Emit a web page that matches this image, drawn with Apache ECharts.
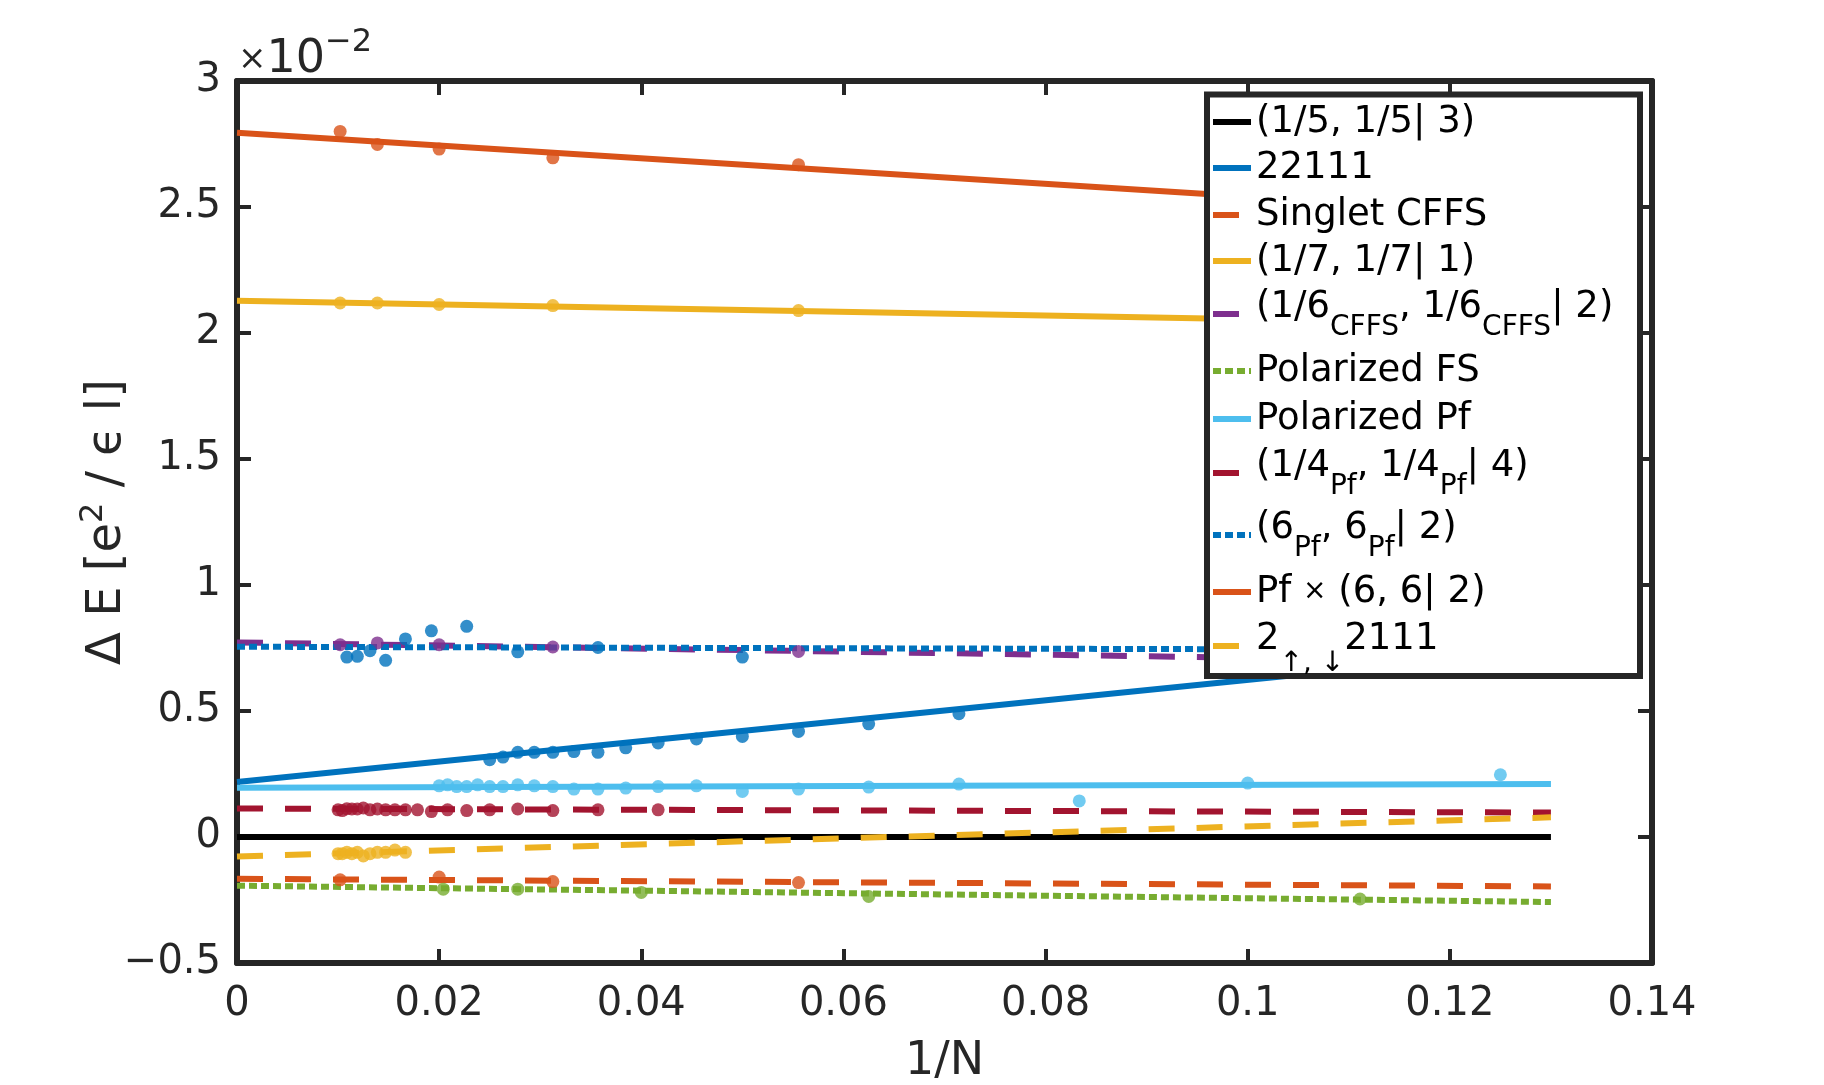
<!DOCTYPE html>
<html>
<head>
<meta charset="utf-8">
<title>Delta E vs 1/N</title>
<script src="https://cdn.jsdelivr.net/npm/echarts@6/dist/echarts.min.js"></script>
<style>
  html, body { margin: 0; padding: 0; background: #ffffff; }
  #chart { width: 1824px; height: 1085px; }
</style>
</head>
<body>
<div id="chart"></div>
<script>
// energies are in units of 1e-2 e^2/(eps l); fits run from 1/N = 0 to 0.13
const fitX = [0, 0.13];
const fit15 = [0, 0];
const fit22111 = [0.218, 0.745];
const fitSinglet = [-0.166, -0.196];
const fit17 = [2.128, 2.033];
const fit16 = [0.772, 0.693];
const fitPolFS = [-0.193, -0.258];
const fitPolPf = [0.195, 0.210];
const fit14 = [0.113, 0.097];
const fit6Pf = [0.755, 0.742];
const fitPf66 = [2.795, 2.465];
const fit2111 = [-0.077, 0.078];

// raw points: system size N and energy
const n22111 = [40, 38, 36, 34, 32, 30, 28, 26, 24, 22, 20, 18, 16, 14];
const e22111 = [0.307, 0.317, 0.336, 0.336, 0.336, 0.339, 0.336, 0.354, 0.373, 0.389, 0.399, 0.419, 0.449, 0.489];
const nSinglet = [98, 50, 32, 18];
const eSinglet = [-0.170, -0.159, -0.177, -0.181];
const n17 = [98, 72, 50, 32, 18];
const e17 = [2.119, 2.119, 2.113, 2.109, 2.089];
const n16 = [98, 72, 50, 32, 18];
const e16 = [0.763, 0.770, 0.763, 0.754, 0.736];
const nPolFS = [49, 36, 25, 16, 9];
const ePolFS = [-0.207, -0.207, -0.220, -0.236, -0.246];
const nPolPf = [50, 48, 46, 44, 42, 40, 38, 36, 34, 32, 30, 28, 26, 24, 22, 20, 18, 16, 14, 12, 10, 8];
const ePolPf = [0.203, 0.207, 0.200, 0.200, 0.207, 0.200, 0.200, 0.207, 0.203, 0.200, 0.190, 0.190, 0.194, 0.200, 0.203, 0.181, 0.190, 0.198, 0.210, 0.143, 0.214, 0.247];
const n14 = [100, 96, 92, 88, 84, 80, 76, 72, 68, 64, 60, 56, 52, 48, 44, 40, 36, 32, 28, 24];
const e14 = [0.108, 0.105, 0.112, 0.111, 0.111, 0.115, 0.108, 0.111, 0.108, 0.108, 0.108, 0.108, 0.101, 0.108, 0.105, 0.108, 0.111, 0.105, 0.108, 0.108];
const n6Pf = [92, 84, 76, 68, 60, 52, 44, 36, 28, 20];
const e6Pf = [0.714, 0.717, 0.739, 0.701, 0.786, 0.818, 0.836, 0.735, 0.752, 0.714];
const nPf66 = [98, 72, 50, 32, 18];
const ePf66 = [2.800, 2.748, 2.730, 2.695, 2.668];
const n2111 = [100, 96, 92, 88, 84, 80, 76, 72, 68, 64, 60];
const e2111 = [-0.066, -0.066, -0.061, -0.066, -0.061, -0.075, -0.066, -0.061, -0.061, -0.052, -0.061];

const fontFamily = 'DejaVu Sans';
const axisColor = '#262626';
const DASHED = [26, 22];
const DOTTED = [8, 4];
const LW = 6;

// legend order = plot order
const entries = [
  { name: '(1/5, 1/5| 3)', label: '(1/5, 1/5| 3)', color: '#000000', dash: 'solid', fit: fit15, n: [], e: [] },
  { name: '22111', label: '22111', color: '#0072BD', dash: 'solid', fit: fit22111, n: n22111, e: e22111 },
  { name: 'Singlet CFFS', label: 'Singlet CFFS', color: '#D95319', dash: DASHED, fit: fitSinglet, n: nSinglet, e: eSinglet },
  { name: '(1/7, 1/7| 1)', label: '(1/7, 1/7| 1)', color: '#EDB120', dash: 'solid', fit: fit17, n: n17, e: e17 },
  { name: '(1/6CFFS, 1/6CFFS| 2)', label: '(1/6{s|CFFS}, 1/6{s|CFFS}| 2)', color: '#7E2F8E', dash: DASHED, fit: fit16, n: n16, e: e16, sub: true },
  { name: 'Polarized FS', label: 'Polarized FS', color: '#77AC30', dash: DOTTED, fit: fitPolFS, n: nPolFS, e: ePolFS },
  { name: 'Polarized Pf', label: 'Polarized Pf', color: '#4DBEEE', dash: 'solid', fit: fitPolPf, n: nPolPf, e: ePolPf },
  { name: '(1/4Pf, 1/4Pf| 4)', label: '(1/4{s|Pf}, 1/4{s|Pf}| 4)', color: '#A2142F', dash: DASHED, fit: fit14, n: n14, e: e14, sub: true },
  { name: '(6Pf, 6Pf| 2)', label: '(6{s|Pf}, 6{s|Pf}| 2)', color: '#0072BD', dash: DOTTED, fit: fit6Pf, n: n6Pf, e: e6Pf, sub: true },
  { name: 'Pf x (6, 6| 2)', label: 'Pf {x|×} (6, 6| 2)', color: '#D95319', dash: 'solid', fit: fitPf66, n: nPf66, e: ePf66 },
  { name: '2ud2111', label: '2{a|↑, ↓}2111', color: '#EDB120', dash: DASHED, fit: fit2111, n: n2111, e: e2111, sub: true }
];

// icon centre of each legend row (px)
const legendRows = [122, 168, 215, 261, 313, 371, 419, 472, 534, 592, 641];

const richLegend = {
  s: { fontSize: 28, fontFamily: fontFamily, color: '#000', padding: [42, 0, 0, 0], lineHeight: 44 },
  x: { fontSize: 28, fontFamily: fontFamily, color: '#000', lineHeight: 44 },
  a: { fontSize: 28, fontFamily: fontFamily, color: '#000', padding: [50, 0, 0, 0], lineHeight: 44 }
};

const series = [];
entries.forEach(function (en) {
  series.push({
    name: en.name,
    type: 'line',
    data: fitX.map(function (x, i) { return [x, en.fit[i]]; }),
    symbol: 'none',
    showSymbol: false,
    silent: true,
    lineStyle: { color: en.color, width: LW, type: en.dash, cap: 'butt' },
    itemStyle: { color: en.color },
    z: 2
  });
});
entries.forEach(function (en) {
  if (!en.n.length) return;
  series.push({
    name: en.name + ' points',
    type: 'scatter',
    data: en.n.map(function (n, i) { return [1 / n, en.e[i]]; }),
    symbol: 'circle',
    symbolSize: 13,
    silent: true,
    itemStyle: { color: en.color },
    z: 3
  });
});

const legends = entries.map(function (en, i) {
  const pad = en.sub ? 14 : 0;
  // rows with subscripts get a taller box, pull them back up
  const shift = en.sub ? 12 : 0;
  return {
    data: [en.name],
    orient: 'vertical',
    left: 1210,
    top: legendRows[i] - (44 + pad) / 2 - shift,
    padding: 0,
    itemWidth: 38,
    itemHeight: 10,
    selectedMode: false,
    z: 5,
    lineStyle: { width: LW },
    itemStyle: { opacity: 0, borderWidth: 0 },
    formatter: function () { return en.label; },
    textStyle: {
      fontSize: 37, fontFamily: fontFamily, color: '#000', lineHeight: 44,
      padding: [0, 0, pad, 0], rich: richLegend
    }
  };
});

const xFmt = function (v) { return v === 0 ? '0' : String(+v.toFixed(2)); };
const yFmt = function (v) {
  const s = String(+Math.abs(v).toFixed(1));
  return v < 0 ? '\u2212' + s : s;
};
const boxLine = { show: true, onZero: false, lineStyle: { color: axisColor, width: 6 } };
const boxTick = { show: true, inside: true, length: 14, lineStyle: { color: axisColor, width: 4 } };

const option = {
  animation: false,
  backgroundColor: '#ffffff',
  grid: { left: 237, right: 172, top: 81, bottom: 122, containLabel: false, outerBoundsMode: 'none' },
  xAxis: [
    {
      type: 'value', min: 0, max: 0.14, interval: 0.02, position: 'bottom',
      axisLine: boxLine, axisTick: boxTick, splitLine: { show: false },
      axisLabel: { fontSize: 40, fontFamily: fontFamily, color: axisColor, margin: 22, formatter: xFmt, showMinLabel: true, showMaxLabel: true },
      name: '1/N', nameLocation: 'middle', nameGap: 76, nameMoveOverlap: false,
      nameTextStyle: { fontSize: 46, fontFamily: fontFamily, color: axisColor }
    },
    {
      type: 'value', min: 0, max: 0.14, interval: 0.02, position: 'top',
      axisLine: boxLine, axisTick: boxTick, splitLine: { show: false }, axisLabel: { show: false }
    }
  ],
  yAxis: [
    {
      type: 'value', min: -0.5, max: 3, interval: 0.5, position: 'left',
      axisLine: boxLine, axisTick: boxTick, splitLine: { show: false },
      axisLabel: { fontSize: 40, fontFamily: fontFamily, color: axisColor, margin: 16, formatter: yFmt, showMinLabel: true, showMaxLabel: true },
      name: '\u0394 E [e{sup|2} / \u03F5 l]', nameLocation: 'middle', nameGap: 99, nameMoveOverlap: false,
      nameTextStyle: {
        fontSize: 48, fontFamily: fontFamily, color: axisColor,
        rich: { sup: { fontSize: 32, fontFamily: fontFamily, color: axisColor, padding: [0, 0, 28, 0] } }
      }
    },
    {
      type: 'value', min: -0.5, max: 3, interval: 0.5, position: 'right',
      axisLine: boxLine, axisTick: boxTick, splitLine: { show: false }, axisLabel: { show: false }
    }
  ],
  legend: legends,
  graphic: [
    {
      type: 'rect', z: 4,
      shape: { x: 1207, y: 94.5, width: 433, height: 581.5 },
      style: { fill: '#ffffff', stroke: axisColor, lineWidth: 6 },
      silent: true
    },
    {
      type: 'text', x: 238, y: 33, z: 5,
      style: {
        text: '{a|\u00D7}{b|10}{c|\u22122}',
        verticalAlign: 'top', align: 'left',
        rich: {
          a: { fontSize: 34, fontFamily: fontFamily, fill: axisColor, lineHeight: 54 },
          b: { fontSize: 46, fontFamily: fontFamily, fill: axisColor, lineHeight: 54 },
          c: { fontSize: 32, fontFamily: fontFamily, fill: axisColor, lineHeight: 54, padding: [0, 0, 34, 0] }
        }
      },
      silent: true
    }
  ],
  series: series
};

const myChart = echarts.init(document.getElementById('chart'));
myChart.setOption(option);
window.addEventListener('resize', function () { myChart.resize(); });
</script>
</body>
</html>
